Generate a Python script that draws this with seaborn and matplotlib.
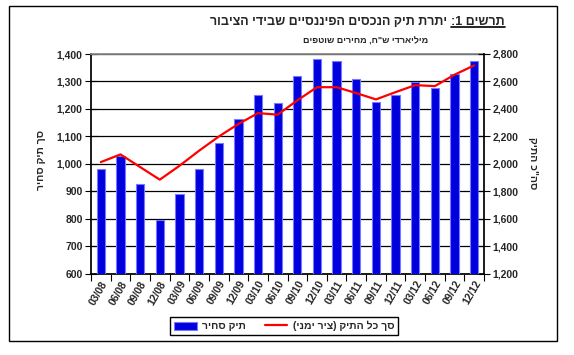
import numpy as np
import matplotlib
matplotlib.use("Agg")
import matplotlib.pyplot as plt
import seaborn as sns
from matplotlib.patches import Rectangle, Patch
from matplotlib.lines import Line2D
from matplotlib.ticker import FuncFormatter, MultipleLocator

# data
quarters = ['03/08', '06/08', '09/08', '12/08', '03/09', '06/09', '09/09', '12/09',
            '03/10', '06/10', '09/10', '12/10', '03/11', '06/11', '09/11', '12/11',
            '03/12', '06/12', '09/12', '12/12']
tradable = [980, 1030, 925, 795, 890, 980, 1077, 1164, 1250, 1220,
            1318, 1380, 1373, 1308, 1226, 1252, 1298, 1275, 1328, 1373]
total = [2012, 2068, 1976, 1884, 1985, 2095, 2198, 2290, 2369, 2358,
         2462, 2558, 2558, 2515, 2469, 2522, 2573, 2566, 2649, 2717]

title_main = "יתרת תיק הנכסים הפיננסיים שבידי הציבור"
title_num = "תרשים 1:"
subtitle = 'מיליארדי ש"ח, מחירים שוטפים'
left_label = "סך תיק סחיר"
right_label = 'סה"כ התיק'
bar_name = "תיק סחיר"
line_name = "סך כל התיק (ציר ימני)"


def rtl(s):
    # matplotlib has no bidi support: write hebrew in visual order
    s = s[::-1]
    return s.translate(str.maketrans("()", ")("))


sns.set_theme(style="white")
plt.rcParams['font.family'] = ['Liberation Sans', 'DejaVu Sans']
plt.rcParams['font.weight'] = 'bold'

W, H = 574, 355
fig = plt.figure(figsize=(W / 100, H / 100), dpi=100)
ax = fig.add_axes([91 / W, 1 - 273.5 / H, (484 - 91) / W, (273.5 - 54) / H])

sns.barplot(x=quarters, y=tradable, color='#0000DD', saturation=1, width=0.42,
            edgecolor='#7777FF', linewidth=0.8, ax=ax, zorder=3)
ax.set_ylim(600, 1400)
ax.yaxis.set_major_locator(MultipleLocator(100))
ax.set_xlim(-0.5, len(quarters) - 0.5)
ax.yaxis.grid(True, color='black', linewidth=0.9)
ax.set_axisbelow(True)
ax.set_xlabel("")
ax.set_ylabel("")

ax2 = ax.twinx()
sns.lineplot(x=np.arange(len(quarters)), y=total, color='#FF0000', linewidth=1.6,
             ax=ax2, zorder=4)
ax2.set_ylim(1200, 2800)
ax2.yaxis.set_major_locator(MultipleLocator(200))
ax2.set_xlim(-0.5, len(quarters) - 0.5)

fmt = FuncFormatter(lambda v, p: f"{v:,.0f}")
ax.yaxis.set_major_formatter(fmt)
ax2.yaxis.set_major_formatter(fmt)

for a in (ax, ax2):
    for sp in a.spines.values():
        sp.set_visible(False)
ax.spines['left'].set_visible(True)
ax.spines['bottom'].set_visible(True)
ax.spines['top'].set_visible(True)
ax.spines['left'].set_color('black')
ax.spines['bottom'].set_color('black')
ax.spines['top'].set_color('#888888')
ax2.spines['right'].set_visible(True)
ax2.spines['right'].set_color('black')

ax.tick_params(axis='y', direction='inout', length=8, width=0.8, color='black',
               labelsize=7.5, pad=2, left=True)
ax2.tick_params(axis='y', direction='inout', length=8, width=0.8, color='black',
                labelsize=7.5, pad=2, right=True)
ax.set_xticks(np.arange(len(quarters)))
ax.set_xticklabels(quarters, rotation=60, ha='right', rotation_mode='anchor',
                   fontsize=7.5)
ax.set_xticks(np.arange(-0.5, len(quarters)), minor=True)
ax.tick_params(axis='x', which='major', length=0, pad=4)
ax.tick_params(axis='x', which='minor', direction='out', length=5, width=0.8,
               color='black', bottom=True)
ax2.tick_params(axis='x', bottom=False, labelbottom=False)

# axis titles
fig.text(41 / W, 1 - 160 / H, rtl(left_label), rotation=90, ha='center',
         va='center', fontsize=7.5, fontweight='bold')
fig.text(533 / W, 1 - 163 / H, rtl(right_label), rotation=270, ha='center',
         va='center', fontsize=7.5, fontweight='bold')

# title: underlined "chart 1:" on the right, rest to its left
renderer = fig.canvas.get_renderer()
xr = 505 / W
ty = 1 - 25 / H
t_num = fig.text(xr, ty, rtl(title_num), ha='right', va='baseline',
                 fontsize=9, fontweight='bold')
bb = t_num.get_window_extent(renderer)
gap = 4
fig.text((bb.x0 - gap) / W, ty, rtl(title_main), ha='right', va='baseline',
         fontsize=9, fontweight='bold')
fig.add_artist(Line2D([bb.x0 / W, bb.x1 / W], [(bb.y0 + 1) / H] * 2,
                      color='black', linewidth=1.2, transform=fig.transFigure))
fig.text(366 / W, 1 - 41 / H, rtl(subtitle), ha='center', va='center',
         fontsize=6.5, fontweight='bold')

# legend
handles = [Patch(facecolor='#0000DD', edgecolor='#7777FF', linewidth=0.8),
           Line2D([], [], color='#FF0000', linewidth=1.6)]
fig.legend(handles, [rtl(bar_name), rtl(line_name)], loc='center',
           bbox_to_anchor=(284 / W, 1 - 326 / H), ncol=2, frameon=True,
           fancybox=False, edgecolor='black', framealpha=1, fontsize=7.5,
           handlelength=2.2, handleheight=0.8, columnspacing=1.8,
           borderpad=0.35, handletextpad=0.5)

# outer border
fig.patches.append(Rectangle((9 / W, 1 - 341 / H), (557 - 9) / W, (341 - 6) / H,
                             transform=fig.transFigure, fill=False,
                             edgecolor='black', linewidth=1))

fig.savefig("out.png", dpi=100)
